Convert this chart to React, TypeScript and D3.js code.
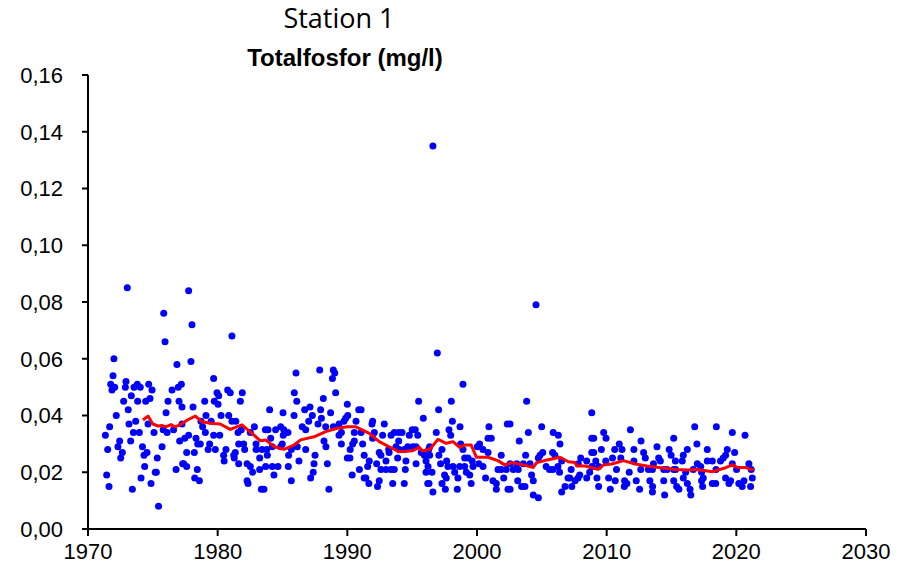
import * as d3 from 'd3'

// Station 1 – total phosphorus samples, [decimal year, mg/l]
const samples1970s: [number, number][] = [
  [1973.03, 0.085], [1975.84, 0.076], [1975.94, 0.066], [1972.0, 0.060], [1976.86, 0.058], [1971.93, 0.054],
  [1972.93, 0.052], [1971.75, 0.051], [1972.06, 0.050], [1971.85, 0.049], [1972.88, 0.050], [1973.55, 0.050],
  [1973.8, 0.051], [1974.03, 0.050], [1974.68, 0.051], [1974.94, 0.049], [1973.34, 0.047], [1972.75, 0.045],
  [1973.83, 0.045], [1974.45, 0.045], [1974.78, 0.046], [1976.48, 0.049], [1976.96, 0.050], [1977.2, 0.051],
  [1976.17, 0.045], [1977.02, 0.045], [1977.25, 0.043], [1973.1, 0.042], [1976.02, 0.041], [1972.18, 0.040],
  [1974.63, 0.037], [1973.16, 0.037], [1973.68, 0.038], [1971.67, 0.036], [1971.34, 0.033], [1973.5, 0.034],
  [1973.96, 0.034], [1975.09, 0.034], [1975.8, 0.035], [1976.1, 0.034], [1976.6, 0.035], [1972.44, 0.031],
  [1973.29, 0.031], [1971.52, 0.028], [1972.31, 0.029], [1972.65, 0.027], [1974.2, 0.029], [1974.55, 0.027],
  [1974.32, 0.026], [1975.71, 0.029], [1977.07, 0.031], [1972.52, 0.025], [1975.34, 0.025], [1974.37, 0.022],
  [1975.27, 0.020], [1975.19, 0.020], [1976.79, 0.021], [1977.3, 0.023], [1971.44, 0.019], [1974.09, 0.018],
  [1974.86, 0.016], [1971.62, 0.015], [1973.42, 0.014], [1975.44, 0.008], [1977.25, 0.037],
  [1977.76, 0.084], [1978.02, 0.072], [1977.94, 0.059], [1979.69, 0.053], [1979.95, 0.048], [1979.0, 0.045],
  [1979.74, 0.045], [1978.1, 0.043], [1979.1, 0.040], [1978.71, 0.038], [1979.5, 0.038], [1978.84, 0.036],
  [1979.05, 0.034], [1979.69, 0.033], [1977.46, 0.032], [1977.76, 0.033], [1978.33, 0.032], [1978.46, 0.030],
  [1978.66, 0.030], [1979.38, 0.030], [1979.26, 0.028], [1979.82, 0.028], [1977.61, 0.027], [1978.2, 0.027],
  [1977.38, 0.023], [1977.61, 0.022], [1978.43, 0.021], [1978.23, 0.018], [1978.59, 0.017],
]

const samples1980s: [number, number][] = [
  [1980.08, 0.047], [1980.77, 0.049], [1980.97, 0.048], [1981.9, 0.048], [1981.75, 0.045], [1980.03, 0.044],
  [1981.1, 0.068], [1980.26, 0.040], [1980.85, 0.040], [1981.1, 0.038], [1981.4, 0.038], [1980.16, 0.033],
  [1981.57, 0.034], [1981.82, 0.035], [1982.52, 0.034], [1982.83, 0.036], [1980.64, 0.028], [1981.62, 0.030],
  [1982.0, 0.030], [1982.08, 0.028], [1981.36, 0.027], [1981.24, 0.026], [1980.46, 0.026], [1980.5, 0.024],
  [1981.28, 0.025], [1981.62, 0.023], [1982.27, 0.023], [1982.52, 0.022], [1982.7, 0.020], [1982.27, 0.017],
  [1982.34, 0.016], [1982.96, 0.030], [1982.96, 0.028], [1983.42, 0.028], [1983.24, 0.025], [1983.24, 0.021],
  [1983.37, 0.014], [1983.68, 0.035],
  [1986.04, 0.055], [1987.87, 0.056], [1988.92, 0.056], [1989.03, 0.055], [1988.85, 0.053], [1985.91, 0.048],
  [1989.1, 0.048], [1986.1, 0.045], [1988.15, 0.046], [1984.01, 0.042], [1985.04, 0.041], [1985.89, 0.040],
  [1986.71, 0.042], [1987.12, 0.043], [1987.94, 0.042], [1988.71, 0.041], [1987.02, 0.038], [1987.3, 0.040],
  [1988.0, 0.039], [1983.88, 0.035], [1984.47, 0.035], [1984.86, 0.036], [1985.1, 0.035], [1985.42, 0.034],
  [1986.52, 0.036], [1986.79, 0.035], [1987.74, 0.037], [1988.33, 0.036], [1988.92, 0.036], [1989.36, 0.037],
  [1989.74, 0.038], [1989.87, 0.039], [1984.09, 0.032], [1985.06, 0.033], [1988.2, 0.031], [1989.36, 0.033],
  [1989.54, 0.034], [1983.78, 0.028], [1984.21, 0.029], [1984.86, 0.029], [1984.98, 0.030], [1983.83, 0.026],
  [1985.47, 0.026], [1985.68, 0.028], [1986.14, 0.029], [1986.79, 0.028], [1988.35, 0.029], [1989.54, 0.030],
  [1986.27, 0.024], [1987.51, 0.026], [1983.7, 0.022], [1984.21, 0.022], [1984.65, 0.022], [1985.45, 0.022],
  [1987.43, 0.023], [1988.46, 0.023], [1984.34, 0.019], [1987.37, 0.020], [1987.17, 0.018], [1985.68, 0.017],
  [1983.57, 0.014], [1988.58, 0.014],
]

const samples1990s: [number, number][] = [
  [1990.0, 0.044], [1990.0, 0.025], [1990.88, 0.042], [1991.06, 0.042], [1995.5, 0.045], [1995.86, 0.039],
  [1990.03, 0.040], [1990.67, 0.038], [1991.95, 0.038], [1991.9, 0.037], [1992.85, 0.037], [1990.54, 0.034],
  [1991.06, 0.034], [1992.08, 0.034], [1991.95, 0.032], [1992.72, 0.033], [1993.37, 0.033], [1993.62, 0.034],
  [1993.96, 0.034], [1994.22, 0.034], [1994.78, 0.033], [1995.0, 0.035], [1995.24, 0.035], [1995.43, 0.033],
  [1990.54, 0.031], [1990.41, 0.030], [1991.18, 0.030], [1993.96, 0.031], [1990.22, 0.028], [1992.46, 0.027],
  [1992.59, 0.026], [1993.19, 0.028], [1993.75, 0.029], [1994.0, 0.028], [1994.39, 0.028], [1994.66, 0.029],
  [1995.05, 0.029], [1995.3, 0.029], [1995.7, 0.027], [1996.27, 0.028], [1990.2, 0.025], [1991.3, 0.026],
  [1993.22, 0.027], [1991.69, 0.024], [1992.98, 0.024], [1993.88, 0.025], [1994.52, 0.024], [1995.94, 0.026],
  [1996.07, 0.024], [1992.26, 0.023], [1991.57, 0.022], [1992.59, 0.021], [1992.98, 0.021], [1993.37, 0.021],
  [1993.62, 0.021], [1994.47, 0.021], [1995.3, 0.023], [1996.07, 0.020], [1990.93, 0.021], [1990.37, 0.019],
  [1991.3, 0.018], [1991.43, 0.018], [1991.66, 0.016], [1992.46, 0.017], [1992.33, 0.015], [1993.5, 0.016],
  [1994.39, 0.016], [1996.2, 0.016],
  [1996.94, 0.062], [1998.92, 0.051], [1998.02, 0.045], [1997.04, 0.042], [1998.1, 0.038], [1998.69, 0.036],
  [1997.84, 0.035], [1997.97, 0.033], [1996.86, 0.034], [1996.35, 0.029], [1997.3, 0.028], [1998.74, 0.030],
  [1998.92, 0.028], [1996.35, 0.026], [1997.06, 0.026], [1999.05, 0.025], [1999.31, 0.025], [1997.66, 0.024],
  [1999.63, 0.024], [1997.19, 0.023], [1996.22, 0.022], [1997.76, 0.022], [1998.15, 0.022], [1998.66, 0.022],
  [1999.05, 0.022], [1999.69, 0.022], [1996.53, 0.020], [1998.28, 0.020], [1999.18, 0.020], [1999.44, 0.019],
  [1997.5, 0.019], [1997.63, 0.018], [1998.53, 0.018], [1999.55, 0.016], [1996.3, 0.016], [1997.3, 0.016],
  [1997.56, 0.014], [1998.48, 0.014], [1996.6, 0.013], [1996.6, 0.135],
]

const samples2000s: [number, number][] = [
  [2000.02, 0.029], [2000.2, 0.030], [2000.46, 0.028], [2000.85, 0.027], [2000.92, 0.036], [2000.85, 0.032],
  [2001.1, 0.032], [2002.34, 0.037], [2001.87, 0.026], [2000.14, 0.023], [2000.46, 0.022], [2001.62, 0.021],
  [2001.87, 0.021], [2002.26, 0.021], [2000.66, 0.018], [2001.23, 0.017], [2001.49, 0.016], [2002.06, 0.018],
  [2001.49, 0.014], [2002.39, 0.014],
  [2003.83, 0.045], [2002.55, 0.037], [2008.85, 0.041], [2003.96, 0.034], [2004.99, 0.036], [2005.88, 0.034],
  [2006.27, 0.033], [2006.4, 0.030], [2003.26, 0.031], [2008.85, 0.032], [2003.75, 0.026], [2004.86, 0.026],
  [2005.07, 0.027], [2004.73, 0.025], [2005.83, 0.027], [2006.01, 0.026], [2006.53, 0.024], [2007.81, 0.023],
  [2008.0, 0.025], [2008.46, 0.024], [2008.85, 0.027], [2002.55, 0.023], [2003.06, 0.023], [2003.57, 0.023],
  [2004.09, 0.023], [2002.8, 0.021], [2003.18, 0.021], [2005.33, 0.022], [2005.59, 0.021], [2005.85, 0.021],
  [2006.24, 0.022], [2006.37, 0.020], [2007.26, 0.021], [2004.21, 0.019], [2004.34, 0.017], [2003.14, 0.017],
  [2007.02, 0.018], [2007.15, 0.018], [2007.79, 0.018], [2007.92, 0.019], [2008.69, 0.020], [2003.44, 0.015],
  [2003.7, 0.015], [2006.79, 0.015], [2007.31, 0.015], [2007.56, 0.017], [2008.46, 0.018], [2006.53, 0.013],
  [2004.34, 0.012], [2004.73, 0.011], [2002.55, 0.014], [2004.55, 0.079],
  [2009.0, 0.032], [2009.77, 0.034], [2009.95, 0.032], [2009.59, 0.028], [2009.0, 0.027], [2009.16, 0.024],
  [2009.93, 0.024], [2008.87, 0.022], [2009.38, 0.022], [2009.25, 0.018], [2009.38, 0.015],
]

const samples2010s: [number, number][] = [
  [2011.83, 0.035], [2012.65, 0.031], [2013.88, 0.029], [2015.17, 0.032], [2010.97, 0.030], [2011.18, 0.028],
  [2010.62, 0.028], [2012.1, 0.028], [2012.85, 0.027], [2014.82, 0.028], [2014.97, 0.026], [2010.45, 0.025],
  [2011.09, 0.025], [2012.1, 0.024], [2012.98, 0.025], [2014.01, 0.025], [2014.14, 0.024], [2013.61, 0.023],
  [2015.3, 0.024], [2010.76, 0.021], [2011.74, 0.020], [2012.63, 0.021], [2013.22, 0.021], [2013.53, 0.021],
  [2014.4, 0.021], [2014.66, 0.021], [2015.17, 0.021], [2010.15, 0.018], [2010.66, 0.017], [2011.38, 0.017],
  [2011.56, 0.016], [2012.28, 0.017], [2012.54, 0.014], [2013.33, 0.017], [2013.54, 0.015], [2014.4, 0.017],
  [2015.17, 0.017], [2010.28, 0.014], [2011.36, 0.015], [2013.53, 0.013], [2014.47, 0.012],
  [2016.79, 0.036], [2018.46, 0.036], [2019.69, 0.034], [2016.96, 0.030], [2016.22, 0.028], [2015.91, 0.026],
  [2017.76, 0.028], [2019.3, 0.028], [2019.17, 0.026], [2018.99, 0.025], [2018.78, 0.024], [2019.87, 0.027],
  [2015.83, 0.024], [2016.99, 0.023], [2017.25, 0.022], [2017.76, 0.024], [2018.15, 0.024], [2019.69, 0.023],
  [2015.32, 0.021], [2016.09, 0.020], [2015.91, 0.018], [2016.68, 0.021], [2017.32, 0.020], [2017.45, 0.018],
  [2018.43, 0.021], [2015.4, 0.015], [2015.57, 0.014], [2016.22, 0.016], [2016.43, 0.014], [2016.49, 0.012],
  [2017.32, 0.017], [2017.4, 0.015], [2018.15, 0.016], [2018.41, 0.016], [2019.17, 0.018], [2019.56, 0.017],
  [2019.43, 0.016],
]

const samples2020s: [number, number][] = [
  [2020.67, 0.033], [2020.97, 0.023], [2020.02, 0.021], [2021.15, 0.021], [2020.19, 0.016], [2020.45, 0.015],
  [2020.59, 0.017], [2021.1, 0.015], [2021.23, 0.018],
]

// running mean (red line)
const trend: [number, number][] = [
  [1974.24, 0.0384], [1974.63, 0.0398], [1975.0, 0.037], [1975.4, 0.0363], [1975.7, 0.0365], [1976.0, 0.036],
  [1976.4, 0.0368], [1976.7, 0.036], [1977.0, 0.0365], [1977.25, 0.0372], [1977.7, 0.0385], [1978.28, 0.0398],
  [1978.8, 0.0378], [1979.56, 0.0372], [1980.2, 0.037], [1980.97, 0.0351], [1981.87, 0.0367], [1982.65, 0.0337],
  [1983.29, 0.0311], [1983.7, 0.0314], [1984.34, 0.029], [1985.11, 0.0281], [1985.89, 0.0296], [1986.4, 0.0314],
  [1987.43, 0.0325], [1988.33, 0.0343], [1989.23, 0.0355], [1990.0, 0.036], [1990.67, 0.036], [1991.69, 0.0337],
  [1992.46, 0.0308], [1993.22, 0.029], [1994.0, 0.0272], [1995.05, 0.0276], [1995.55, 0.0288], [1995.8, 0.0275],
  [1996.37, 0.0281], [1996.99, 0.0316], [1997.63, 0.0302], [1998.15, 0.0308], [1998.66, 0.0288], [1999.05, 0.0296],
  [1999.55, 0.0296], [1999.95, 0.0253], [2000.85, 0.0253], [2001.62, 0.0241], [2002.13, 0.0226], [2002.7, 0.0234],
  [2003.57, 0.0226], [2004.34, 0.0217], [2004.6, 0.0234], [2005.39, 0.0243], [2006.4, 0.0253], [2007.05, 0.0237],
  [2007.56, 0.0234], [2007.7, 0.0222], [2008.33, 0.0222], [2009.03, 0.0214], [2009.33, 0.021], [2009.77, 0.0226],
  [2010.4, 0.0229], [2011.3, 0.0241], [2012.2, 0.0229], [2013.1, 0.0222], [2014.0, 0.0217], [2015.34, 0.021],
  [2016.22, 0.0208], [2016.99, 0.021], [2018.15, 0.0202], [2019.05, 0.0214], [2019.69, 0.0226], [2020.07, 0.0217],
  [2020.71, 0.0217], [2021.1, 0.021], [2021.33, 0.021],
]

const xTicks = [1970, 1980, 1990, 2000, 2010, 2020, 2030]
const yTicks = [0, 0.02, 0.04, 0.06, 0.08, 0.1, 0.12, 0.14, 0.16]

const width = 900
const height = 567

export default function App() {
  const x = d3.scaleLinear().domain([1970, 2030]).range([88, 866])
  const y = d3.scaleLinear().domain([0, 0.16]).range([529, 75])

  const points = [...samples1970s, ...samples1980s, ...samples1990s, ...samples2000s, ...samples2010s, ...samples2020s]

  const line = d3.line<[number, number]>()
    .x(d => x(d[0]))
    .y(d => y(d[1]))

  const fmt = (v: number) => v.toFixed(2).replace('.', ',')
  const axisFont = '"Liberation Sans", Arial, sans-serif'

  return (
    <div style={{ position: 'absolute', left: 0, top: 0 }}>
      <svg width={width} height={height} style={{ display: 'block', background: '#fff' }}>
        <text x={339} y={28} textAnchor="middle" fontFamily='"Open Sans", sans-serif' fontSize={27} fill="#000">
          Station 1
        </text>
        <text x={345} y={66} textAnchor="middle" fontFamily={axisFont} fontWeight="bold" fontSize={24} fill="#000">
          Totalfosfor (mg/l)
        </text>

        {/* y axis */}
        <line x1={x(1970)} x2={x(1970)} y1={y(0.16)} y2={y(0)} stroke="#000" strokeWidth={2} />
        {yTicks.map(t => (
          <g key={t}>
            <line x1={x(1970) - 6} x2={x(1970)} y1={y(t)} y2={y(t)} stroke="#000" strokeWidth={2} />
            <text x={63} y={y(t)} dy="0.36em" textAnchor="end" fontFamily={axisFont} fontSize={22} fill="#000">
              {fmt(t)}
            </text>
          </g>
        ))}

        {/* x axis */}
        <line x1={x(1970)} x2={x(2030)} y1={y(0)} y2={y(0)} stroke="#000" strokeWidth={2} />
        {xTicks.map(t => (
          <g key={t}>
            <line x1={x(t)} x2={x(t)} y1={y(0)} y2={y(0) + 7} stroke="#000" strokeWidth={2} />
            <text x={x(t)} y={559} textAnchor="middle" fontFamily={axisFont} fontSize={22} fill="#000">
              {t}
            </text>
          </g>
        ))}

        {points.map((d, i) => (
          <circle key={i} cx={x(d[0])} cy={y(d[1])} r={3.5} fill="#0000ff" />
        ))}

        <path d={line(trend) || ''} fill="none" stroke="#ff0000" strokeWidth={3} strokeLinejoin="round" />
      </svg>
    </div>
  )
}
